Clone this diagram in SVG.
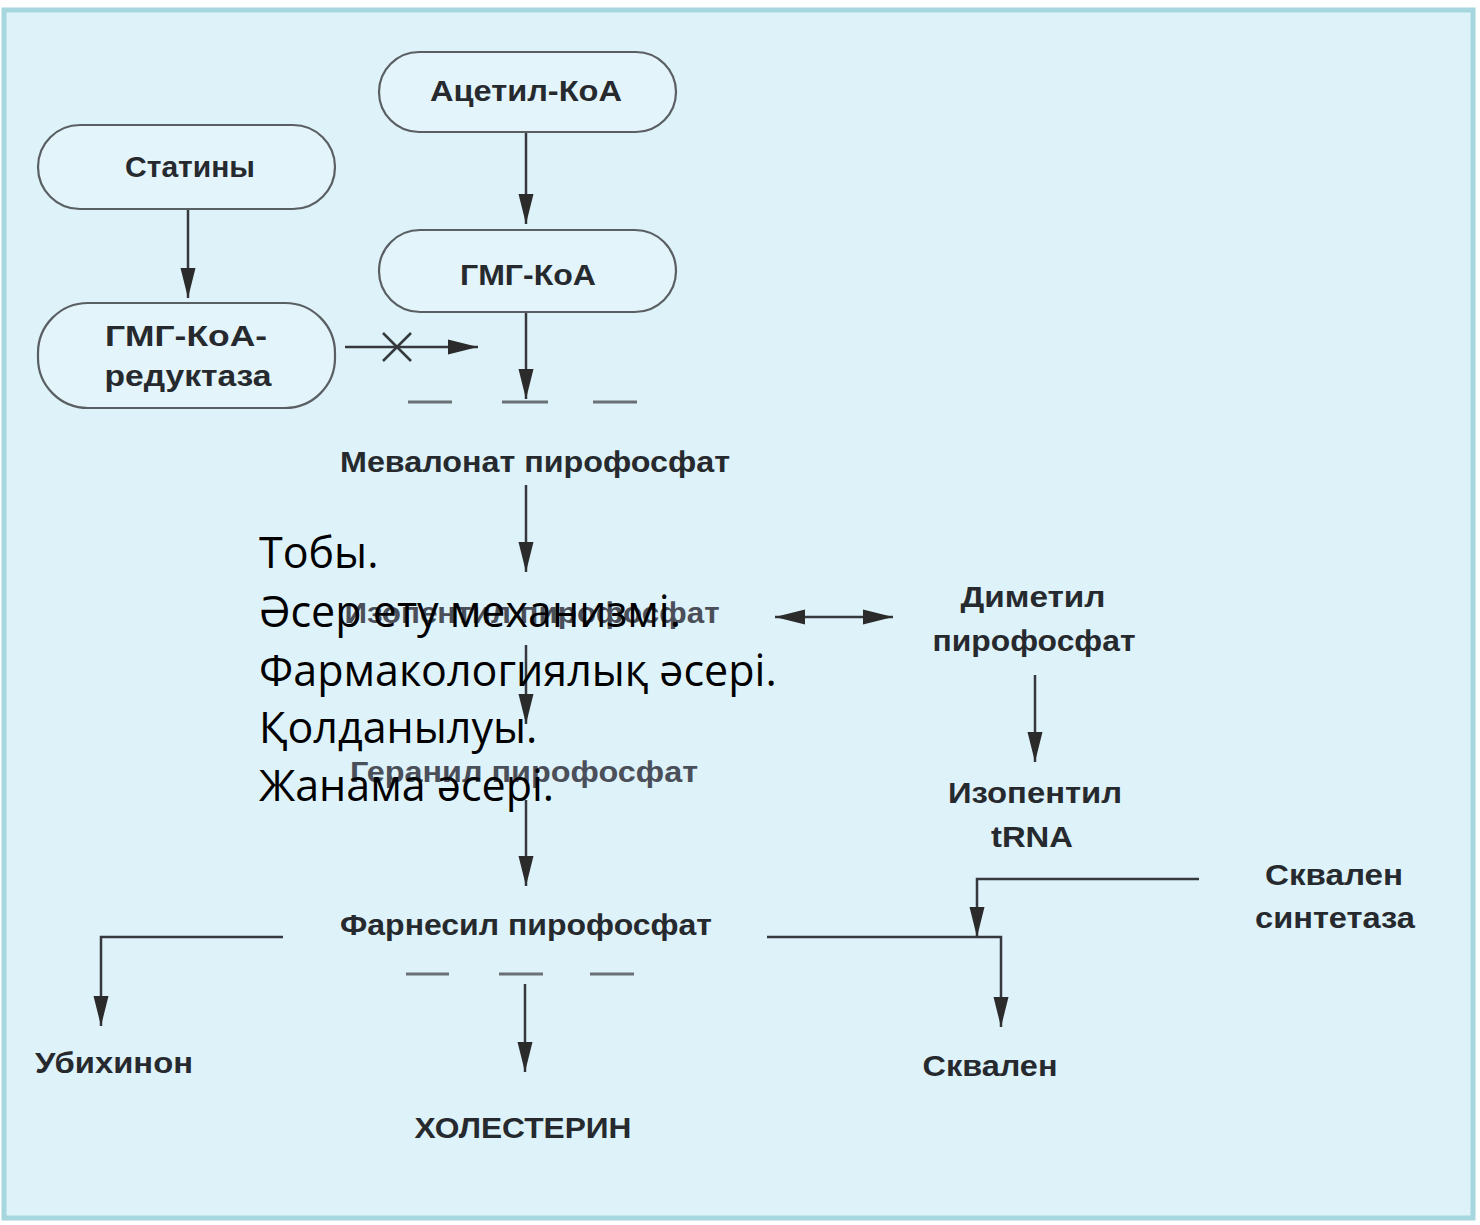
<svg xmlns="http://www.w3.org/2000/svg" width="1480" height="1225" viewBox="0 0 1480 1225">
<defs>
<marker id="ah" markerUnits="userSpaceOnUse" markerWidth="30" markerHeight="16" refX="30" refY="8" orient="auto">
<path d="M0,0.5 L30,8 L0,15.5 Z" fill="#2b2b2b"/>
</marker>
<marker id="ahs" markerUnits="userSpaceOnUse" markerWidth="30" markerHeight="16" refX="0" refY="8" orient="auto">
<path d="M30,0.5 L0,8 L30,15.5 Z" fill="#2b2b2b"/>
</marker>
<style>
.pill{fill:#e3f4fa;stroke:#5a5f63;stroke-width:2.2}
.lbl{font-family:"Liberation Sans",Arial,sans-serif;font-weight:bold;font-size:29px;fill:#262a2e;text-anchor:middle}
.faint{fill:#4a4f5a}
.ln{fill:none;stroke:#35393d;stroke-width:2.5}
.dash{stroke:#6a7075;stroke-width:3}
.ov{font-family:"Open Sans","Noto Sans",sans-serif;font-size:43px;fill:#000}
</style>
</defs>
<rect x="0" y="0" width="1480" height="1225" fill="#ffffff"/>
<rect x="4" y="10" width="1469" height="1208" fill="#def2f9" stroke="#a6d6de" stroke-width="5"/>

<g id="connectors">
<line class="ln" x1="188" y1="210" x2="188" y2="298" marker-end="url(#ah)"/>
<line class="ln" x1="526" y1="132" x2="526" y2="224" marker-end="url(#ah)"/>
<line class="ln" x1="345" y1="347" x2="478" y2="347" marker-end="url(#ah)"/>
<line class="ln" x1="383" y1="333" x2="411" y2="361"/>
<line class="ln" x1="383" y1="361" x2="411" y2="333"/>
<line class="ln" x1="526" y1="312" x2="526" y2="399" marker-end="url(#ah)"/>
<line class="dash" x1="408" y1="402" x2="452" y2="402"/>
<line class="dash" x1="502" y1="402" x2="548" y2="402"/>
<line class="dash" x1="593" y1="402" x2="637" y2="402"/>
<line class="ln" x1="526" y1="485" x2="526" y2="572" marker-end="url(#ah)"/>
<line class="ln" x1="775" y1="617" x2="893" y2="617" marker-start="url(#ahs)" marker-end="url(#ah)"/>
<line class="ln" x1="1035" y1="675" x2="1035" y2="762" marker-end="url(#ah)"/>
<line class="ln" x1="526" y1="645" x2="526" y2="724" marker-end="url(#ah)"/>
<line class="ln" x1="526" y1="800" x2="526" y2="886" marker-end="url(#ah)"/>
<polyline class="ln" points="283,937 101,937 101,1026" marker-end="url(#ah)"/>
<polyline class="ln" points="767,937 1001,937 1001,1027" marker-end="url(#ah)"/>
<polyline class="ln" points="1199,879 977,879 977,937" marker-end="url(#ah)"/>
<line class="dash" x1="406" y1="974" x2="449" y2="974"/>
<line class="dash" x1="499" y1="974" x2="543" y2="974"/>
<line class="dash" x1="590" y1="974" x2="634" y2="974"/>
<line class="ln" x1="525" y1="984" x2="525" y2="1072" marker-end="url(#ah)"/>
</g>

<g id="n-acetyl"><rect class="pill" x="379" y="52" width="297" height="80" rx="40"/><text class="lbl" x="526" y="101" textLength="192" lengthAdjust="spacingAndGlyphs">Ацетил-КоА</text></g>
<g id="n-statins"><rect class="pill" x="38" y="125" width="297" height="84" rx="42"/><text class="lbl" x="190" y="177" textLength="130" lengthAdjust="spacingAndGlyphs">Статины</text></g>
<g id="n-hmgcoa"><rect class="pill" x="379" y="230" width="297" height="82" rx="41"/><text class="lbl" x="528" y="285" textLength="136" lengthAdjust="spacingAndGlyphs">ГМГ-КоА</text></g>
<g id="n-reductase"><rect class="pill" x="38" y="303" width="297" height="105" rx="50"/><text class="lbl" x="186" y="346" textLength="162" lengthAdjust="spacingAndGlyphs">ГМГ-КоА-</text><text class="lbl" x="188" y="386" textLength="167" lengthAdjust="spacingAndGlyphs">редуктаза</text></g>
<g id="n-mevalonate"><text class="lbl" x="535" y="472" textLength="390" lengthAdjust="spacingAndGlyphs">Мевалонат пирофосфат</text></g>
<g id="n-isopentenyl"><text class="lbl faint" x="532" y="623" textLength="375" lengthAdjust="spacingAndGlyphs">Изопентил пирофосфат</text></g>
<g id="n-dimethyl"><text class="lbl" x="1033" y="607" textLength="145" lengthAdjust="spacingAndGlyphs">Диметил</text><text class="lbl" x="1034" y="651" textLength="203" lengthAdjust="spacingAndGlyphs">пирофосфат</text></g>
<g id="n-trna"><text class="lbl" x="1035" y="803" textLength="174" lengthAdjust="spacingAndGlyphs">Изопентил</text><text class="lbl" x="1032" y="847" textLength="82" lengthAdjust="spacingAndGlyphs">tRNA</text></g>
<g id="n-geranyl"><text class="lbl faint" x="524" y="782" textLength="348" lengthAdjust="spacingAndGlyphs">Геранил пирофосфат</text></g>
<g id="n-synthetase"><text class="lbl" x="1334" y="885" textLength="138" lengthAdjust="spacingAndGlyphs">Сквален</text><text class="lbl" x="1335" y="928" textLength="160" lengthAdjust="spacingAndGlyphs">синтетаза</text></g>
<g id="n-farnesyl"><text class="lbl" x="526" y="935" textLength="372" lengthAdjust="spacingAndGlyphs">Фарнесил пирофосфат</text></g>
<g id="n-ubiquinone"><text class="lbl" x="114" y="1073" textLength="158" lengthAdjust="spacingAndGlyphs">Убихинон</text></g>
<g id="n-squalene"><text class="lbl" x="990" y="1076" textLength="135" lengthAdjust="spacingAndGlyphs">Сквален</text></g>
<g id="n-cholesterol"><text class="lbl" x="523" y="1138" textLength="217" lengthAdjust="spacingAndGlyphs">ХОЛЕСТЕРИН</text></g>

<g id="overlay">
<text class="ov" x="259" y="568">Тобы.</text>
<text class="ov" x="259" y="627">Әсер ету механизмі.</text>
<text class="ov" x="259" y="686">Фармакологиялық әсері.</text>
<text class="ov" x="259" y="743">Қолданылуы.</text>
<text class="ov" x="259" y="801">Жанама әсері.</text>
</g>
</svg>
